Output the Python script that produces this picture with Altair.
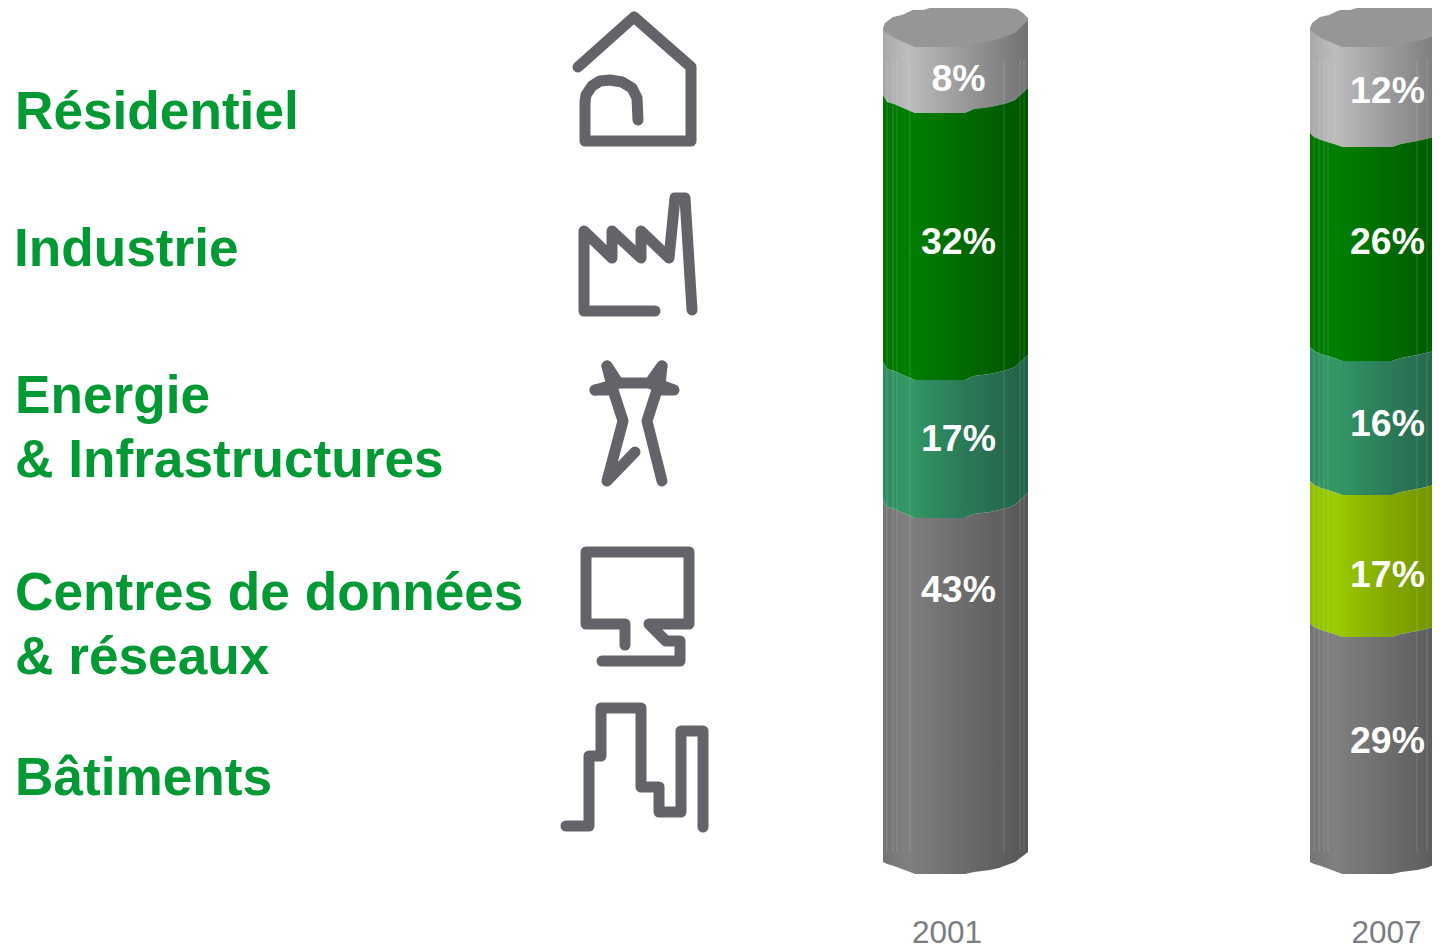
import altair as alt
import pandas as pd

# Text content
row_lines = ["Résidentiel", "Industrie", "Energie", "& Infrastructures",
             "Centres de données", "& réseaux", "Bâtiments"]
row_x = [15, 14, 15, 15, 15, 15, 15]
row_y = [129, 265.5, 413, 477, 610, 674, 795]

years = ["2001", "2007"]
year_x = [947, 1386.5]
year_y = [942.5, 942.5]
cyl_left = [883, 1310]
label_x = [958.5, 1387.5]

values_2001 = [8, 32, 17, 0, 43]
values_2007 = [12, 26, 16, 17, 29]
label_y_2001 = [91, 254, 451, None, 602]
label_y_2007 = [103, 254, 436, 587, 753]

seg_stops = [
    ["#a8a8a8", "#bdbdbd", "#9a9a9a", "#727272"],
    ["#007300", "#008000", "#006a00", "#005500"],
    ["#2f8c60", "#339966", "#2b7a58", "#236048"],
    ["#8fbf00", "#99cc00", "#83a800", "#6b8c00"],
    ["#747474", "#808080", "#6c6c6c", "#565656"],
]

# Lowest point of each band edge (from lid down to foot)
low_2001 = [113, 380, 518, 518, 874]
low_2007 = [147, 361, 495, 637, 874]

# Band edge shape
prof_dx = [0, 4, 11, 27, 32, 82, 91, 107, 116, 124, 132, 145]
rise_2001 = [-18, -11, -9, -2, 0, 0, -4, -6, -8, -10, -13, -25]
rise_2007 = [-14, -10, -7, -2, 0, 0, -3, -6, -8, -10, -12, -20]
rise_foot = [-12, -10, -8, -2, 0, 0, -2, -4, -6, -9, -12, -22]

lid_top_dx = [0, 2, 10, 19, 30, 40, 54, 64, 114, 124, 134, 140, 145]
lid_top_y = [28, 23, 17, 15, 10, 10, 6, 4, 4, 8, 9, 13, 18]
lid_low_dx = [0, 4, 11, 27, 32, 82, 91, 107, 116, 124, 132, 145]
lid_low_y = [30, 33, 38, 45, 47, 47, 44, 41, 39, 36, 33, 20]

streak_2001 = [4, 10, 14, 27, 121, 137, 141]
streak_2007 = [4, 9, 14, 18, 107, 117]

# Icon paths
icons = {
    "house": [(578, 67), (634, 17), (691, 67), (691, 141), (585, 141), (585, 102), (586, 95),
              (592, 86), (600, 81), (610, 80), (622, 82), (632, 88), (637, 98), (638, 120)],
    "factory": [(692, 310), (685, 198), (675, 198), (669, 258), (641, 231), (641, 258), (612, 231),
                (612, 258), (584, 231), (584, 311), (655, 311)],
    "pylon_a": [(595, 390), (613, 385), (607, 366), (618, 383), (650, 383), (662, 366), (660, 385),
                (674, 390), (657, 390), (647, 421), (662, 481)],
    "pylon_b": [(595, 390), (613, 390), (623, 421), (607, 481), (635, 452)],
    "pylon_c": [(607, 366), (612, 386), (618, 383), (607, 366)],
    "pylon_d": [(662, 366), (656, 386), (650, 383), (662, 366)],
    "screen": [(625, 645), (625, 624), (586, 624), (586, 552), (689, 552), (689, 624), (649, 624),
               (666, 641), (680, 641), (680, 661), (602, 661)],
    "city": [(566, 826), (589, 826), (589, 756), (601, 756), (601, 708), (641, 708), (641, 787),
             (659, 787), (659, 812), (681, 812), (681, 731), (703, 731), (703, 827)],
}

X = alt.Scale(domain=[8, 1432], nice=False, zero=False)
Y = alt.Scale(domain=[947, 8], nice=False, zero=False)
xe = alt.X("x:Q", scale=X, axis=None)
ye = alt.Y("y:Q", scale=Y, axis=None)


def interp(d, xs, ys):
    for i in range(len(xs) - 1):
        if xs[i] <= d <= xs[i + 1]:
            return ys[i] + (ys[i + 1] - ys[i]) * (d - xs[i]) / (xs[i + 1] - xs[i])


layers = []

for left, vals, lows, rise, streak_dx in zip(
        cyl_left, [values_2001, values_2007], [low_2001, low_2007],
        [rise_2001, rise_2007], [streak_2001, streak_2007]):
    prev_edge = [y - 1 for y in lid_low_y]
    for n, (val, low, stops) in enumerate(zip(vals, lows, seg_stops)):
        if val == 0:
            continue
        r = rise_foot if n == len(vals) - 1 else rise
        edge = [low + d for d in r]
        df = pd.DataFrame({
            "x": [left + d for d in prof_dx],
            "y": prev_edge,
            "y2": edge,
        })
        grad = alt.Gradient(
            gradient="linear", x1=0, x2=1, y1=0, y2=0,
            stops=[alt.GradientStop(offset=o, color=c)
                   for o, c in zip([0, 0.17, 0.55, 1], stops)],
        )
        layers.append(alt.Chart(df).mark_area(color=grad, clip=True)
                      .encode(x=xe, y=ye, y2="y2:Q"))
        prev_edge = edge
    streaks = pd.DataFrame({
        "x": [left + d for d in streak_dx],
        "y": [60] * len(streak_dx),
        "y2": [852] * len(streak_dx),
    })
    layers.append(alt.Chart(streaks).mark_rule(color="white", opacity=0.16, strokeWidth=1, clip=True)
                  .encode(x=xe, y=ye, y2="y2:Q"))
    lid_x = sorted(set(lid_top_dx) | set(lid_low_dx))
    lid = pd.DataFrame({
        "x": [left + d for d in lid_x],
        "y": [interp(d, lid_top_dx, lid_top_y) for d in lid_x],
        "y2": [interp(d, lid_low_dx, lid_low_y) for d in lid_x],
    })
    layers.append(alt.Chart(lid).mark_area(color="#969696", clip=True)
                  .encode(x=xe, y=ye, y2="y2:Q"))

# Percentage labels
pct_rows = []
for lx, vals, ys in zip(label_x, [values_2001, values_2007], [label_y_2001, label_y_2007]):
    for v, yy in zip(vals, ys):
        if v:
            pct_rows.append({"x": lx, "y": yy, "t": f"{v}%"})
layers.append(alt.Chart(pd.DataFrame(pct_rows)).mark_text(
    font="Liberation Sans", fontWeight="bold", fontSize=37.4, color="white",
    align="center", baseline="alphabetic").encode(x=xe, y=ye, text="t:N"))

# Years
layers.append(alt.Chart(pd.DataFrame({"x": year_x, "y": year_y, "t": years})).mark_text(
    font="Liberation Sans", fontSize=31.5, color="#7a7d82",
    align="center", baseline="alphabetic").encode(x=xe, y=ye, text="t:N"))

# Row labels
layers.append(alt.Chart(pd.DataFrame({"x": row_x, "y": row_y, "t": row_lines})).mark_text(
    font="Liberation Sans", fontWeight="bold", fontSize=53.2, color="#009933",
    align="left", baseline="alphabetic").encode(x=xe, y=ye, text="t:N"))

# Icons
icon_rows = []
for name, pts in icons.items():
    for i, (px, py) in enumerate(pts):
        icon_rows.append({"name": name, "i": i, "x": px, "y": py})
layers.append(alt.Chart(pd.DataFrame(icon_rows)).mark_line(
    color="#636469", strokeWidth=11, strokeCap="round", strokeJoin="round").encode(
    x=xe, y=ye, detail="name:N", order="i:Q"))

chart = alt.layer(*layers).properties(width=1424, height=939, padding=0).configure_view(strokeWidth=0)
chart.save("out.html", embed_options={"renderer": "svg", "actions": False})
